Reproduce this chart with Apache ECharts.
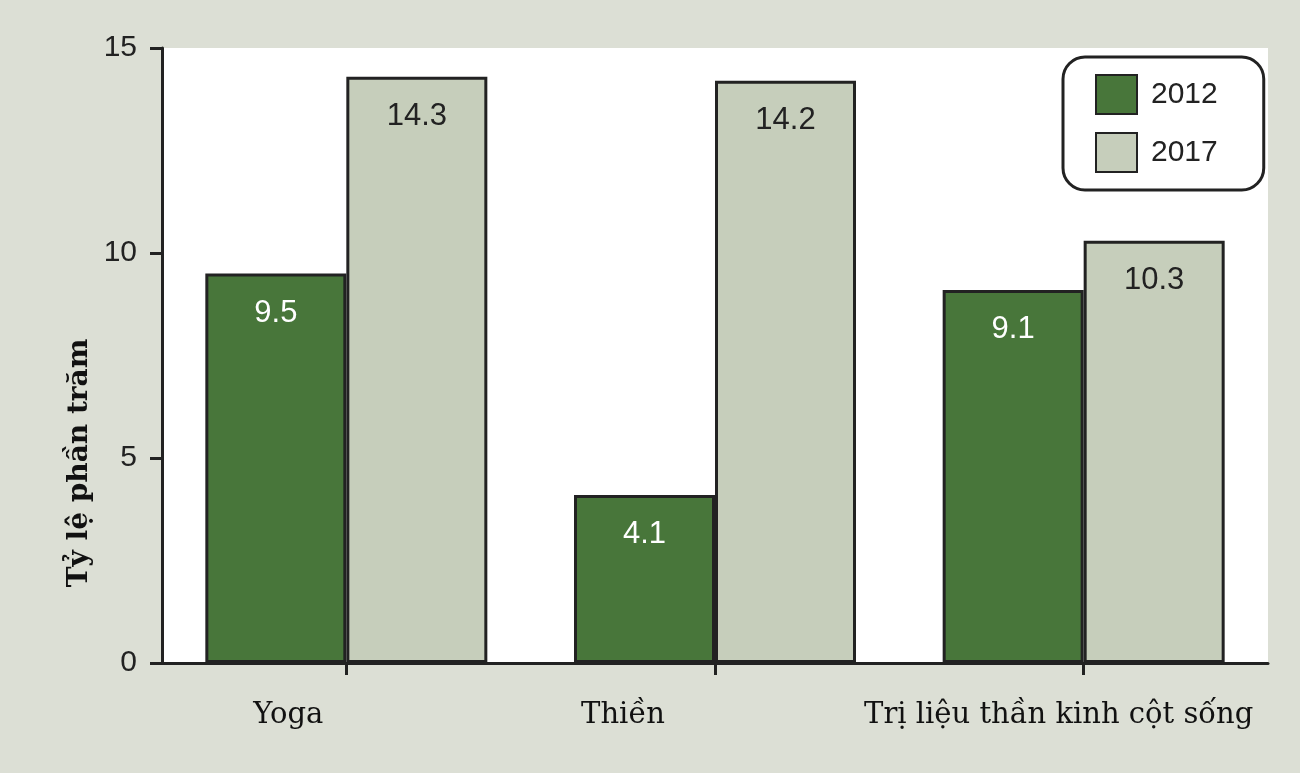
<!DOCTYPE html>
<html>
<head>
<meta charset="utf-8">
<script src="https://cdn.jsdelivr.net/npm/echarts@6/dist/echarts.min.js"></script>
<style>
  html, body { margin: 0; padding: 0; background: #dcdfd5; }
  #chart { width: 1300px; height: 773px; }
</style>
</head>
<body>
<div id="chart"></div>
<script>
// dữ liệu
const categories = ["Yoga", "Thiền", "Trị liệu thần kinh cột sống"];
const seriesNames = ["2012", "2017"];
const values2012 = [9.5, 4.1, 9.1];
const values2017 = [14.3, 14.2, 10.3];
const yTicks = [0, 5, 10, 15];

const chart = echarts.init(document.getElementById("chart"));

const serif = "'DejaVu Serif', 'Liberation Serif', serif";
const sans = "'Liberation Sans', Arial, sans-serif";
const dark = "#222222";
// labels in the picture sit a bit left of the category centre
const labelShift = [116, 184, 50];

const rich = {};
labelShift.forEach((s, i) => {
  rich["c" + i] = {
    fontFamily: serif,
    fontSize: 29,
    color: "#111",
    padding: [0, s, 0, 0],
  };
});

const option = {
  backgroundColor: "#dcdfd5",
  animation: false,
  grid: {
    left: 162,
    top: 48,
    width: 1106,
    height: 615,
    show: true,
    backgroundColor: "#ffffff",
    borderWidth: 0,
  },
  legend: {
    orient: "vertical",
    left: 1063,
    top: 57,
    width: 200,
    padding: [17, 46, 17, 32],
    itemWidth: 41,
    itemHeight: 39,
    itemGap: 17,
    icon: "rect",
    backgroundColor: "#ffffff",
    borderColor: dark,
    borderWidth: 3,
    borderRadius: 22,
    textStyle: {
      fontFamily: sans,
      fontSize: 30,
      color: dark,
      padding: [0, 0, 0, 9],
    },
    data: seriesNames,
  },
  graphic: [
    {
      type: "text",
      x: 80,
      y: 463,
      rotation: Math.PI / 2,
      style: {
        text: "Tỷ lệ phần trăm",
        fontFamily: serif,
        fontWeight: "bold",
        fontSize: 28,
        fill: "#111",
        align: "center",
        verticalAlign: "middle",
      },
    },
  ],
  xAxis: {
    type: "category",
    data: categories,
    axisLine: { lineStyle: { color: dark, width: 3 } },
    axisTick: {
      show: true,
      interval: 0,
      alignWithLabel: true,
      length: 12,
      lineStyle: { color: dark, width: 3 },
    },
    axisLabel: {
      margin: 38,
      formatter: (v, i) => "{c" + i + "|" + v + "}",
      rich: rich,
    },
  },
  yAxis: {
    type: "value",
    min: yTicks[0],
    max: yTicks[yTicks.length - 1],
    interval: 5,
    splitLine: { show: false },
    axisLine: { show: true, lineStyle: { color: dark, width: 3 } },
    axisTick: { show: true, length: 12, lineStyle: { color: dark, width: 3 } },
    axisLabel: {
      margin: 25,
      fontFamily: sans,
      fontSize: 30,
      color: dark,
    },
  },
  series: [
    {
      name: seriesNames[0],
      type: "bar",
      data: values2012,
      barWidth: 141,
      barGap: "0%",
      itemStyle: { color: "#48763a", borderColor: dark, borderWidth: 3 },
      label: {
        show: true,
        position: "insideTop",
        distance: 24,
        fontFamily: sans,
        fontSize: 31,
        color: "#ffffff",
      },
    },
    {
      name: seriesNames[1],
      type: "bar",
      data: values2017,
      barWidth: 141,
      barGap: "0%",
      itemStyle: { color: "#c6cebb", borderColor: dark, borderWidth: 3 },
      label: {
        show: true,
        position: "insideTop",
        distance: 24,
        fontFamily: sans,
        fontSize: 31,
        color: dark,
      },
    },
  ],
};

chart.setOption(option);
</script>
</body>
</html>
